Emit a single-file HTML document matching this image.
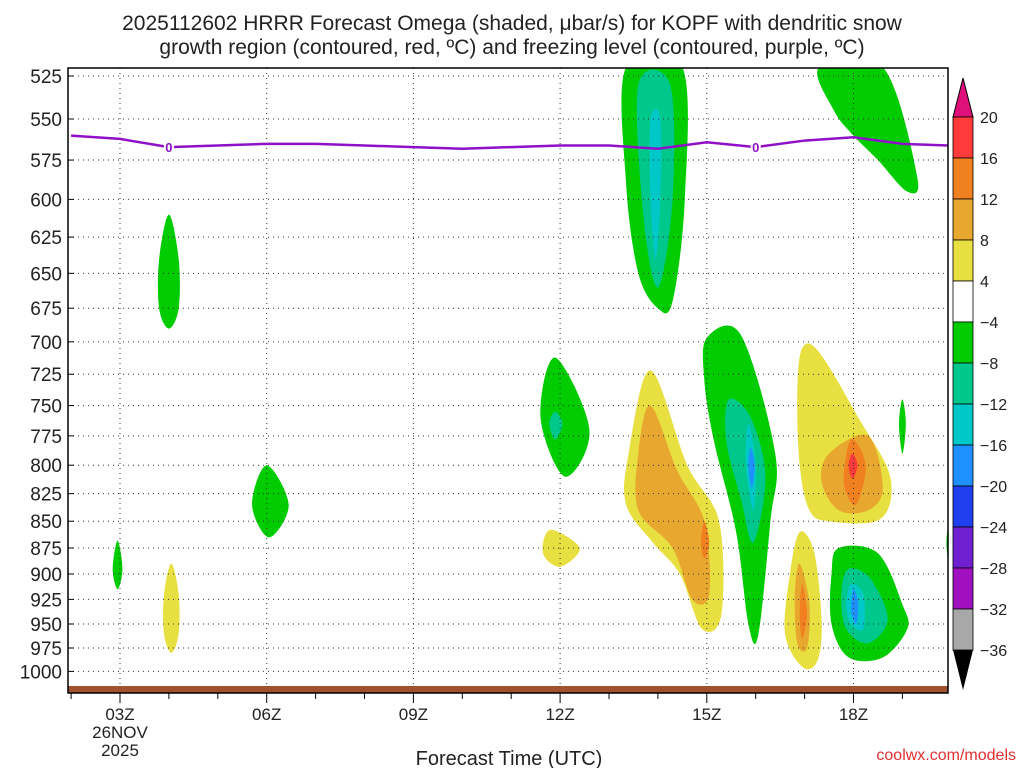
<!DOCTYPE html>
<html><head><meta charset="utf-8">
<style>
body{margin:0;background:#fff;}
svg{display:block;font-family:"Liberation Sans",sans-serif;}
</style></head>
<body>
<svg id="chart" width="1024" height="768" viewBox="0 0 1024 768">
<text x="512" y="30" font-size="21" text-anchor="middle" fill="#222">2025112602 HRRR Forecast Omega (shaded, μbar/s) for KOPF with dendritic snow</text>
<text x="512" y="54" font-size="21" text-anchor="middle" fill="#222">growth region (contoured, red, ºC) and freezing level (contoured, purple, ºC)</text>
<g id="fills"></g>
<g id="grid"></g>
<g id="lines"></g>
<g id="axes"></g>
<g id="cbar"></g>
<text x="509" y="765" font-size="20" text-anchor="middle" fill="#222">Forecast Time (UTC)</text>
<text x="1016" y="760" font-size="16" text-anchor="end" fill="#e03030">coolwx.com/models</text>
</svg>
<script>
const pTicks=[525,550,575,600,625,650,675,700,725,750,775,800,825,850,875,900,925,950,975,1000];
const hourTicks=[3,6,9,12,15,18];
const hourLabels=["03Z","06Z","09Z","12Z","15Z","18Z"];
const flHours=[2,3,4,5,6,7,8,9,10,11,12,13,14,15,16,17,18,19,20];
const flPres=[560,562,567,566,565,565,566,567,568,567,566,566,568,564,567,563,561,565,566];
const cbLevels=[20,16,12,8,4,-4,-8,-12,-16,-20,-24,-28,-32,-36];
const cbColors=["#ff3a3a","#f08020","#e8a830","#e8e040","#ffffff","#00cc00","#00c88c","#00c8c8","#1e90ff","#2040f0","#7020d0","#a010c0","#a8a8a8"];
const blobColor={g:"#00cc00",t:"#00c88c",c:"#00c8c8",b:"#1e90ff",y:"#e8e040",d:"#e8a830",o:"#f08020",r:"#ff3a3a"};
const blobs=[
["g",[[13.35,520],[14.5,520],[14.55,600],[14.3,670],[14.0,675],[13.6,650],[13.35,590]]],
["t",[[13.6,530],[14.25,530],[14.3,600],[14.0,660],[13.7,610]]],
["c",[[13.85,550],[14.05,550],[14.05,600],[13.95,640],[13.85,600]]],
["g",[[17.3,520],[18.6,520],[19.3,585],[19.1,595],[18.5,575],[18.0,560],[17.6,545]]],
["g",[[4.0,610],[4.2,640],[4.2,675],[4.0,690],[3.8,675],[3.8,640]]],
["g",[[2.95,868],[3.05,895],[2.95,915],[2.85,895]]],
["y",[[4.05,890],[4.2,920],[4.2,960],[4.05,980],[3.9,960],[3.9,920]]],
["g",[[6.0,800],[6.45,835],[6.05,865],[5.7,835]]],
["g",[[11.9,712],[12.6,770],[12.1,810],[11.6,760]]],
["t",[[11.9,755],[12.05,765],[11.9,778],[11.78,765]]],
["y",[[11.8,858],[12.4,875],[12.0,893],[11.65,880]]],
["y",[[13.85,722],[14.6,800],[15.25,850],[15.3,940],[14.9,955],[14.45,900],[13.9,870],[13.35,835],[13.4,790]]],
["d",[[13.85,750],[14.4,805],[14.95,850],[15.05,920],[14.7,925],[14.3,875],[13.6,840],[13.6,790]]],
["o",[[14.95,850],[15.05,870],[14.95,885],[14.88,870]]],
["g",[[15.0,697],[15.7,695],[16.4,790],[16.3,850],[16.05,962],[15.85,950],[15.6,860],[15.15,780],[14.95,730]]],
["t",[[15.45,745],[15.9,760],[16.2,810],[15.95,870],[15.7,830],[15.4,780]]],
["c",[[15.85,765],[16.0,800],[15.95,840],[15.8,800]]],
["b",[[15.9,785],[15.98,800],[15.92,820],[15.85,800]]],
["y",[[16.95,705],[17.3,708],[18.1,760],[18.75,810],[18.55,848],[17.5,850],[17.1,840],[16.9,800],[16.85,740]]],
["d",[[17.5,790],[18.3,775],[18.6,820],[18.3,840],[17.7,840],[17.35,815]]],
["o",[[17.95,778],[18.25,800],[18.05,835],[17.8,815]]],
["r",[[17.98,790],[18.08,800],[17.98,812],[17.9,800]]],
["y",[[16.9,860],[17.2,880],[17.35,950],[17.25,990],[16.95,995],[16.6,960],[16.7,900]]],
["d",[[16.9,890],[17.1,930],[17.05,975],[16.85,970],[16.8,920]]],
["o",[[16.95,910],[17.05,940],[16.95,965],[16.9,940]]],
["g",[[17.7,875],[18.5,880],[19.0,930],[19.1,955],[18.6,985],[17.9,985],[17.55,950],[17.55,900]]],
["t",[[17.9,895],[18.35,905],[18.7,945],[18.3,970],[17.85,955],[17.75,920]]],
["c",[[17.95,910],[18.2,920],[18.2,955],[17.95,950],[17.85,930]]],
["b",[[18.0,915],[18.1,930],[18.05,950],[17.95,935]]],
["g",[[19.0,745],[19.07,765],[19.0,790],[18.93,765]]],
["g",[[20.0,845],[20.2,865],[20.0,895],[19.9,870]]]
];
const NS="http://www.w3.org/2000/svg";
const X0=68,X1=948,Y0=68,Y1=688;
function xS(h){return 120+(h-3)*48.9;}
function yS(p){return 76+(Math.log(p)-Math.log(525))*924;}
function mk(tag,attrs,parent){const e=document.createElementNS(NS,tag);for(const k in attrs)e.setAttribute(k,attrs[k]);parent.appendChild(e);return e;}
function smooth(pts){const n=pts.length;let d=`M${pts[0][0]},${pts[0][1]}`;for(let i=0;i<n;i++){const p0=pts[(i-1+n)%n],p1=pts[i],p2=pts[(i+1)%n],p3=pts[(i+2)%n];d+=`C${p1[0]+(p2[0]-p0[0])/6},${p1[1]+(p2[1]-p0[1])/6} ${p2[0]-(p3[0]-p1[0])/6},${p2[1]-(p3[1]-p1[1])/6} ${p2[0]},${p2[1]}`;}return d+"Z";}
const svg=document.getElementById('chart');
const defs=mk('defs',{},svg);
const cp=mk('clipPath',{id:'pc'},defs);mk('rect',{x:X0,y:Y0,width:X1-X0,height:Y1-Y0},cp);
const fills=document.getElementById('fills');fills.setAttribute('clip-path','url(#pc)');
blobs.forEach(b=>{const pts=b[1].map(q=>[xS(q[0]),yS(q[1])]);
 const e=mk('path',{d:smooth(pts),fill:blobColor[b[0]]},fills);
 
 });
const grid=document.getElementById('grid');
pTicks.forEach(p=>{const e=mk('line',{x1:X0,x2:X1,y1:yS(p),y2:yS(p),stroke:'#333','stroke-width':1,'stroke-dasharray':'1,4'},grid);
 });
hourTicks.forEach(h=>{const e=mk('line',{x1:xS(h),x2:xS(h),y1:Y0,y2:Y1,stroke:'#333','stroke-width':1,'stroke-dasharray':'1,4'},grid);
 });
const lines=document.getElementById('lines');
const ground=mk('rect',{x:X0,y:686,width:X1-X0,height:7,fill:'#a0522d'},lines);

const flPts=flHours.map((h,i)=>[Math.max(X0,Math.min(X1,xS(h))),yS(flPres[i])]);
let fd='M'+flPts.map(q=>q.join(',')).join('L');
const fl=mk('path',{d:fd,fill:'none',stroke:'#9010c8','stroke-width':2.5},lines);

[4,16].forEach(h=>{const i=flHours.indexOf(h);
 mk('rect',{x:xS(h)-5,y:yS(flPres[i])-8,width:10,height:15,fill:'#fff'},lines);
 const t=mk('text',{x:xS(h),y:yS(flPres[i])+5,'font-size':13,'font-weight':'bold','text-anchor':'middle',fill:'#9010c8'},lines);t.textContent='0';
 });
const axes=document.getElementById('axes');
mk('rect',{x:X0,y:Y0,width:X1-X0,height:693-Y0,fill:'none',stroke:'#000','stroke-width':1.5},axes);
pTicks.forEach(p=>{mk('line',{x1:X0,x2:X0+6,y1:yS(p),y2:yS(p),stroke:'#000'},axes);
 const t=mk('text',{x:62,y:yS(p)+7,'font-size':19,'text-anchor':'end',fill:'#222'},axes);t.textContent=p;
 });
for(let h=2;h<=20;h++){const x=xS(h);if(x<X0||x>X1)continue;mk('line',{x1:x,x2:x,y1:693,y2:hourTicks.includes(h)?703:699,stroke:'#000'},axes);}
hourTicks.forEach((h,i)=>{const t=mk('text',{x:xS(h),y:720,'font-size':17,'text-anchor':'middle',fill:'#222'},axes);t.textContent=hourLabels[i];
 });
[['26NOV',738],['2025',756]].forEach(a=>{const t=mk('text',{x:xS(3),y:a[1],'font-size':17,'text-anchor':'middle',fill:'#222'},axes);t.textContent=a[0];
 });
const cb=document.getElementById('cbar');const CX=953,CW=20;
function cy(i){return 117+i*41;}
mk('polygon',{points:`${CX},117 ${CX+CW},117 ${CX+CW/2},78`,fill:'#e0107a',stroke:'#000'},cb);
cbColors.forEach((c,i)=>{const e=mk('rect',{x:CX,y:cy(i),width:CW,height:41,fill:c,stroke:'#000','stroke-width':0.8},cb);
 });
mk('polygon',{points:`${CX},${cy(13)} ${CX+CW},${cy(13)} ${CX+CW/2},690`,fill:'#000'},cb);
cbLevels.forEach((v,i)=>{const t=mk('text',{x:CX+CW+7,y:cy(i)+6,'font-size':16,fill:'#222'},cb);t.textContent=v>0?v:'−'+(-v);
 });
</script>
</body></html>
